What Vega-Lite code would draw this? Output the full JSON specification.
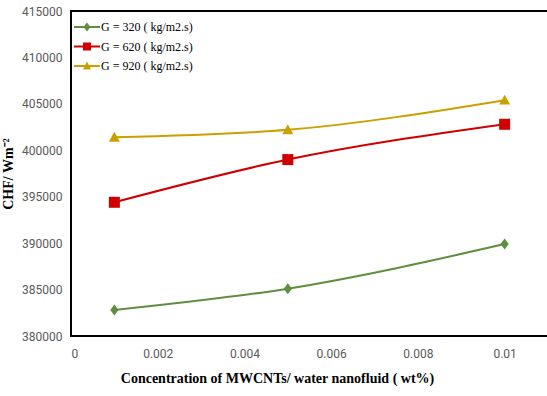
{
  "$schema": "https://vega.github.io/schema/vega-lite/v6.json",
  "width": 477,
  "height": 325,
  "autosize": "none",
  "padding": {"left": 71, "top": 11, "right": 0, "bottom": 60},
  "background": "white",
  "config": {
    "view": {"stroke": "#000000", "strokeWidth": 2},
    "axis": {"grid": false, "ticks": false, "domain": false, "labelColor": "#595959", "labelFont": "Liberation Sans Narrow, Roboto", "labelFontSize": 12, "titleFont": "Liberation Serif", "titleFontWeight": "bold", "titleColor": "#000000", "titleFontSize": 14}
  },
  "data": {"values": [
    {"c": 0.001, "chf": 382800, "G": "G = 320 ( kg/m2.s)"},
    {"c": 0.005, "chf": 385100, "G": "G = 320 ( kg/m2.s)"},
    {"c": 0.01, "chf": 389900, "G": "G = 320 ( kg/m2.s)"},
    {"c": 0.001, "chf": 394400, "G": "G = 620 ( kg/m2.s)"},
    {"c": 0.005, "chf": 399000, "G": "G = 620 ( kg/m2.s)"},
    {"c": 0.01, "chf": 402800, "G": "G = 620 ( kg/m2.s)"},
    {"c": 0.001, "chf": 401400, "G": "G = 920 ( kg/m2.s)"},
    {"c": 0.005, "chf": 402200, "G": "G = 920 ( kg/m2.s)"},
    {"c": 0.01, "chf": 405400, "G": "G = 920 ( kg/m2.s)"}
  ]},
  "encoding": {
    "x": {"field": "c", "type": "quantitative", "scale": {"domain": [0, 0.011], "nice": false, "zero": false},
      "axis": {"values": [0, 0.002, 0.004, 0.006, 0.008, 0.01], "format": "~g", "labelPadding": 12, "title": "Concentration of MWCNTs/ water nanofluid ( wt%)", "titlePadding": 12, "titleX": 206}},
    "y": {"field": "chf", "type": "quantitative", "scale": {"domain": [380000, 415000], "nice": false, "zero": false},
      "axis": {"values": [380000, 385000, 390000, 395000, 400000, 405000, 410000, 415000], "format": "d", "labelPadding": 9, "title": "CHF/ Wm⁻²", "titlePadding": 6}}
  },
  "layer": [
    {
      "mark": {"type": "line", "interpolate": "monotone", "strokeWidth": 2},
      "encoding": {
        "color": {"field": "G", "type": "nominal", "legend": null,
          "scale": {"domain": ["G = 320 ( kg/m2.s)", "G = 620 ( kg/m2.s)", "G = 920 ( kg/m2.s)"], "range": ["#5E8E3E", "#D00000", "#CC9F00"]}}
      }
    },
    {
      "mark": {"type": "point", "filled": true, "opacity": 1, "size": 121},
      "encoding": {
        "color": {"field": "G", "type": "nominal", "legend": null,
          "scale": {"domain": ["G = 320 ( kg/m2.s)", "G = 620 ( kg/m2.s)", "G = 920 ( kg/m2.s)"], "range": ["#5E8E3E", "#D00000", "#CC9F00"]}},
        "shape": {"field": "G", "type": "nominal", "legend": null,
          "scale": {"domain": ["G = 320 ( kg/m2.s)", "G = 620 ( kg/m2.s)", "G = 920 ( kg/m2.s)"], "range": ["M0,-1L0.75,0L0,1L-0.75,0Z", "M-1,-1H1V1H-1Z", "M0,-1L1,0.8H-1Z"]}}
      }
    },
    {
      "transform": [{"filter": "false"}],
      "mark": {"type": "point", "filled": true, "opacity": 1},
      "encoding": {
        "color": {"field": "G", "type": "nominal",
          "scale": {"domain": ["G = 320 ( kg/m2.s)", "G = 620 ( kg/m2.s)", "G = 920 ( kg/m2.s)"], "range": ["#5E8E3E", "#D00000", "#CC9F00"]},
          "legend": {"title": null, "orient": "top-left", "offset": 4, "padding": 2, "symbolSize": 400, "symbolStrokeWidth": 0, "labelFont": "Liberation Serif", "labelFontSize": 12, "labelColor": "#000000", "labelOffset": 4, "rowPadding": 3.5}},
        "shape": {"field": "G", "type": "nominal",
          "scale": {"domain": ["G = 320 ( kg/m2.s)", "G = 620 ( kg/m2.s)", "G = 920 ( kg/m2.s)"], "range": ["M-1.3,-0.1H1.3V0.1H-1.3Z M0,-0.45L0.35,0L0,0.45L-0.35,0Z", "M-1.3,-0.1H1.3V0.1H-1.3Z M-0.4,-0.4H0.4V0.4H-0.4Z", "M-1.3,-0.1H1.3V0.1H-1.3Z M0,-0.45L0.4,0.35L-0.4,0.35Z"]},
          "legend": {"title": null, "orient": "top-left", "offset": 4, "padding": 2, "symbolSize": 400, "symbolStrokeWidth": 0, "labelFont": "Liberation Serif", "labelFontSize": 12, "labelColor": "#000000", "labelOffset": 4, "rowPadding": 3.5}}
      }
    }
  ],
  "resolve": {"scale": {"color": "independent", "shape": "independent"}}
}
